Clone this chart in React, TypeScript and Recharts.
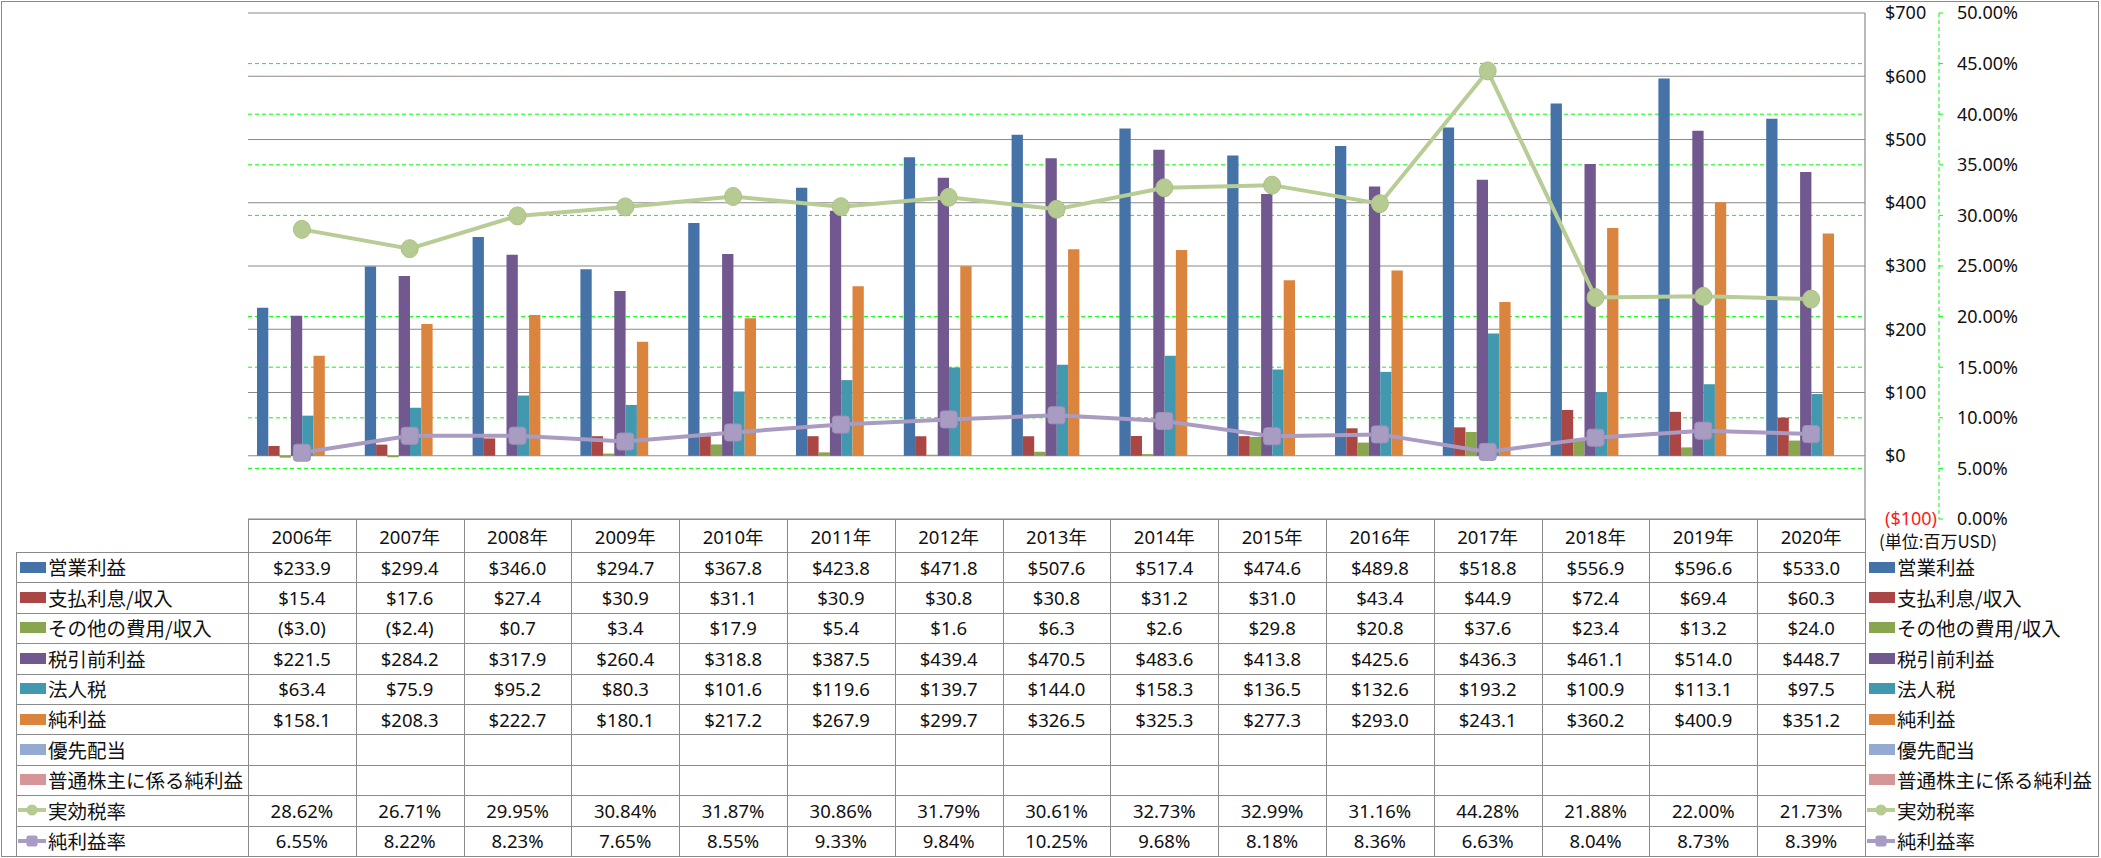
import React from "react";
import { Bar, CartesianGrid, ComposedChart, Line, XAxis, YAxis } from "recharts";

// Fiscal years (columns of the data table)
const years = [
  "2006年", "2007年", "2008年", "2009年", "2010年", "2011年", "2012年", "2013年",
  "2014年", "2015年", "2016年", "2017年", "2018年", "2019年", "2020年",
];

// USD millions
const operatingIncome = [233.9, 299.4, 346.0, 294.7, 367.8, 423.8, 471.8, 507.6, 517.4, 474.6, 489.8, 518.8, 556.9, 596.6, 533.0];
const interestExpense = [15.4, 17.6, 27.4, 30.9, 31.1, 30.9, 30.8, 30.8, 31.2, 31.0, 43.4, 44.9, 72.4, 69.4, 60.3];
const otherExpense = [-3.0, -2.4, 0.7, 3.4, 17.9, 5.4, 1.6, 6.3, 2.6, 29.8, 20.8, 37.6, 23.4, 13.2, 24.0];
const preTaxIncome = [221.5, 284.2, 317.9, 260.4, 318.8, 387.5, 439.4, 470.5, 483.6, 413.8, 425.6, 436.3, 461.1, 514.0, 448.7];
const incomeTax = [63.4, 75.9, 95.2, 80.3, 101.6, 119.6, 139.7, 144.0, 158.3, 136.5, 132.6, 193.2, 100.9, 113.1, 97.5];
const netIncome = [158.1, 208.3, 222.7, 180.1, 217.2, 267.9, 299.7, 326.5, 325.3, 277.3, 293.0, 243.1, 360.2, 400.9, 351.2];
const preferredDividend: (number | null)[] = years.map(() => null);
const commonNetIncome: (number | null)[] = years.map(() => null);

// percent
const effectiveTaxRate = [28.62, 26.71, 29.95, 30.84, 31.87, 30.86, 31.79, 30.61, 32.73, 32.99, 31.16, 44.28, 21.88, 22.0, 21.73];
const netMargin = [6.55, 8.22, 8.23, 7.65, 8.55, 9.33, 9.84, 10.25, 9.68, 8.18, 8.36, 6.63, 8.04, 8.73, 8.39];

const usdTicks = [-100, 0, 100, 200, 300, 400, 500, 600, 700];
const pctTicks = [0, 5, 10, 15, 20, 25, 30, 35, 40, 45, 50];
// dashed % gridlines that are not hidden under a solid $ gridline
const pctGridValues = [5, 10, 15, 20, 30, 35, 40, 45];

const chartData = years.map((year, i) => ({
  year,
  op: operatingIncome[i],
  interest: interestExpense[i],
  other: otherExpense[i],
  pretax: preTaxIncome[i],
  tax: incomeTax[i],
  net: netIncome[i],
  pref: preferredDividend[i],
  common: commonNetIncome[i],
  eff: effectiveTaxRate[i],
  margin: netMargin[i],
}));

// layout (px, whole window)
const W = 2101;
const H = 858;
const PLOT_L = 248;
const PLOT_R = 1865;
const PLOT_T = 13;
const PLOT_B = 519;
const HEAD_B = 552;
const TABLE_B = 856;
const LEG_L = 16;
const USD_AXIS_W = 74;
const PCT_AXIS_W = 100;
const colW = (PLOT_R - PLOT_L) / years.length;
const rowH = (TABLE_B - HEAD_B) / 10;

const NUM_FONT = "'Noto Sans', 'Noto Sans CJK JP', sans-serif";
const JP_FONT = "'Noto Sans CJK JP', sans-serif";
const LINE_GRAY = "#8a8a8a";

const GREEN_LINE = "#B7CD95";
const PURPLE_LINE = "#A99BC2";

// axis ids: Recharts stacks same-side axes by id order
const USD_AXIS = "a_usd";
const PCT_AXIS = "b_pct";

const fmtUsd = (v: number | null) =>
  v == null ? "" : v < 0 ? `($${(-v).toFixed(1)})` : `$${v.toFixed(1)}`;
const fmtPct = (v: number | null) => (v == null ? "" : `${v.toFixed(2)}%`);

type Row = {
  label: string;
  color: string;
  kind: "bar" | "circle" | "square";
  values: (number | null)[];
  fmt: (v: number | null) => string;
};

const rows: Row[] = [
  { label: "営業利益", color: "#4572A7", kind: "bar", values: operatingIncome, fmt: fmtUsd },
  { label: "支払利息/収入", color: "#AA4643", kind: "bar", values: interestExpense, fmt: fmtUsd },
  { label: "その他の費用/収入", color: "#89A54E", kind: "bar", values: otherExpense, fmt: fmtUsd },
  { label: "税引前利益", color: "#71588F", kind: "bar", values: preTaxIncome, fmt: fmtUsd },
  { label: "法人税", color: "#4198AF", kind: "bar", values: incomeTax, fmt: fmtUsd },
  { label: "純利益", color: "#DB843D", kind: "bar", values: netIncome, fmt: fmtUsd },
  { label: "優先配当", color: "#94AAD1", kind: "bar", values: preferredDividend, fmt: fmtUsd },
  { label: "普通株主に係る純利益", color: "#D59697", kind: "bar", values: commonNetIncome, fmt: fmtUsd },
  { label: "実効税率", color: GREEN_LINE, kind: "circle", values: effectiveTaxRate, fmt: fmtPct },
  { label: "純利益率", color: PURPLE_LINE, kind: "square", values: netMargin, fmt: fmtPct },
];

const barKeys = ["op", "interest", "other", "pretax", "tax", "net", "pref", "common"];

function UsdTick(props: any) {
  const { x, y, payload } = props;
  const v = payload.value as number;
  return (
    <text x={x} y={y} dy="0.36em" textAnchor="start" fontSize={18} fontFamily={NUM_FONT} fill={v < 0 ? "#FF1A1A" : "#111"}>
      {v < 0 ? `($${-v})` : `$${v}`}
    </text>
  );
}

function PctTick(props: any) {
  const { x, y, payload } = props;
  return (
    <text x={x} y={y} dy="0.36em" textAnchor="start" fontSize={18} fontFamily={NUM_FONT} fill="#111">
      {`${(payload.value as number).toFixed(2)}%`}
    </text>
  );
}

function CircleDot(props: any) {
  const { cx, cy, index } = props;
  if (cx == null || cy == null) return <g key={index} />;
  return <ellipse key={index} cx={cx} cy={cy} rx={8.5} ry={9} fill="#B5CB92" stroke="#ABC287" strokeWidth={1} />;
}

function SquareDot(props: any) {
  const { cx, cy, index } = props;
  if (cx == null || cy == null) return <g key={index} />;
  return <rect key={index} x={cx - 8.5} y={cy - 8.5} width={17} height={17} rx={3} fill="#A99CC2" stroke="#A092B9" strokeWidth={1} />;
}

function Swatch({ row }: { row: Row }) {
  if (row.kind === "bar") {
    return <div style={{ width: 26, height: 11, background: row.color }} />;
  }
  return (
    <svg width={30} height={14} style={{ display: "block" }}>
      <line x1={1} y1={7} x2={29} y2={7} stroke={row.color} strokeWidth={4} />
      {row.kind === "circle" ? (
        <circle cx={15} cy={7} r={5.5} fill="#B5CB92" />
      ) : (
        <rect x={9.5} y={1.5} width={11} height={11} rx={2} fill="#A99CC2" />
      )}
    </svg>
  );
}

function LegendEntry({ row, left, top }: { row: Row; left: number; top: number }) {
  return (
    <div
      style={{
        position: "absolute",
        left,
        top,
        height: rowH,
        display: "flex",
        alignItems: "center",
        whiteSpace: "nowrap",
      }}
    >
      <div style={{ width: row.kind === "bar" ? 28 : 30, marginLeft: row.kind === "bar" ? 4 : 1, display: "flex", alignItems: "center" }}>
        <Swatch row={row} />
      </div>
      <span style={{ fontFamily: JP_FONT, fontSize: 19.5, lineHeight: 1, color: "#111", marginLeft: row.kind === "bar" ? 0 : 1 }}>
        {row.label}
      </span>
    </div>
  );
}

export default function App() {
  const hLines: React.ReactNode[] = [];
  hLines.push(
    <div key="h-head" style={{ position: "absolute", left: PLOT_L, top: PLOT_B, width: PLOT_R - PLOT_L, height: 1, background: LINE_GRAY }} />
  );
  for (let i = 0; i <= rows.length; i++) {
    hLines.push(
      <div
        key={`h${i}`}
        style={{ position: "absolute", left: LEG_L, top: Math.round(HEAD_B + i * rowH), width: PLOT_R - LEG_L, height: 1, background: LINE_GRAY }}
      />
    );
  }
  const vLines: React.ReactNode[] = [
    <div key="v-leg" style={{ position: "absolute", left: LEG_L, top: HEAD_B, width: 1, height: TABLE_B - HEAD_B, background: LINE_GRAY }} />,
  ];
  for (let j = 0; j <= years.length; j++) {
    vLines.push(
      <div
        key={`v${j}`}
        style={{ position: "absolute", left: Math.round(PLOT_L + j * colW), top: PLOT_B, width: 1, height: TABLE_B - PLOT_B, background: LINE_GRAY }}
      />
    );
  }

  const cellStyle = (left: number, top: number, height: number): React.CSSProperties => ({
    position: "absolute",
    left,
    top,
    width: colW,
    height,
    display: "flex",
    alignItems: "center",
    justifyContent: "center",
    fontFamily: NUM_FONT,
    fontSize: 18.5,
    color: "#111",
  });

  return (
    <div style={{ position: "absolute", left: 0, top: 0, width: W, height: H, background: "#fff", overflow: "hidden" }}>
      <div style={{ position: "absolute", left: 1, top: 1, width: W - 3, height: H - 2, border: `1px solid ${LINE_GRAY}`, boxSizing: "border-box" }} />
      <div style={{ position: "absolute", left: 0, top: 0 }}>
        <ComposedChart
          width={W}
          height={H}
          data={chartData}
          margin={{ top: PLOT_T, left: PLOT_L, right: W - PLOT_R - USD_AXIS_W - PCT_AXIS_W, bottom: H - PLOT_B }}
        >
          <CartesianGrid
            yAxisId={PCT_AXIS}
            vertical={false}
            horizontalValues={pctGridValues}
            stroke="#00FF00"
            strokeDasharray="4 3"
          />
          <CartesianGrid yAxisId={USD_AXIS} vertical={false} stroke={LINE_GRAY} strokeWidth={1.2} />
          <XAxis dataKey="year" hide />
          <YAxis
            yAxisId={USD_AXIS}
            orientation="right"
            domain={[-100, 700]}
            ticks={usdTicks}
            interval={0}
            width={USD_AXIS_W}
            axisLine={{ stroke: LINE_GRAY, strokeWidth: 1.2 }}
            tickLine={false}
            tickSize={0}
            tickMargin={20}
            tick={<UsdTick />}
          />
          <YAxis
            yAxisId={PCT_AXIS}
            orientation="right"
            domain={[0, 50]}
            ticks={pctTicks}
            interval={0}
            width={PCT_AXIS_W}
            axisLine={{ stroke: "#00FF00", strokeDasharray: "4 3" }}
            tickLine={{ stroke: "#00FF00" }}
            tickSize={4}
            tickMargin={14}
            tick={<PctTick />}
          />
          {barKeys.map((k, i) => (
            <Bar key={k} yAxisId={USD_AXIS} dataKey={k} fill={rows[i].color} barSize={11.3} isAnimationActive={false} />
          ))}
          <Line
            yAxisId={PCT_AXIS}
            dataKey="eff"
            stroke={GREEN_LINE}
            strokeWidth={4}
            dot={<CircleDot />}
            activeDot={false}
            isAnimationActive={false}
          />
          <Line
            yAxisId={PCT_AXIS}
            dataKey="margin"
            stroke={PURPLE_LINE}
            strokeWidth={4}
            dot={<SquareDot />}
            activeDot={false}
            isAnimationActive={false}
          />
        </ComposedChart>
      </div>

      {/* data table */}
      {hLines}
      {vLines}
      {years.map((y, j) => (
        <div key={`hd${j}`} style={cellStyle(PLOT_L + j * colW, PLOT_B, HEAD_B - PLOT_B)}>
          {y}
        </div>
      ))}
      {rows.map((row, i) =>
        row.values.map((v, j) => (
          <div key={`c${i}-${j}`} style={cellStyle(PLOT_L + j * colW, HEAD_B + i * rowH, rowH)}>
            {row.fmt(v)}
          </div>
        ))
      )}
      {rows.map((row, i) => (
        <LegendEntry key={`ll${i}`} row={row} left={LEG_L} top={HEAD_B + i * rowH} />
      ))}
      {rows.map((row, i) => (
        <LegendEntry key={`rl${i}`} row={row} left={PLOT_R} top={HEAD_B + i * rowH} />
      ))}
      <div
        style={{
          position: "absolute",
          left: 1879,
          top: 528,
          fontFamily: JP_FONT,
          fontSize: 17,
          color: "#111",
          whiteSpace: "nowrap",
        }}
      >
        (単位:百万USD)
      </div>
    </div>
  );
}
